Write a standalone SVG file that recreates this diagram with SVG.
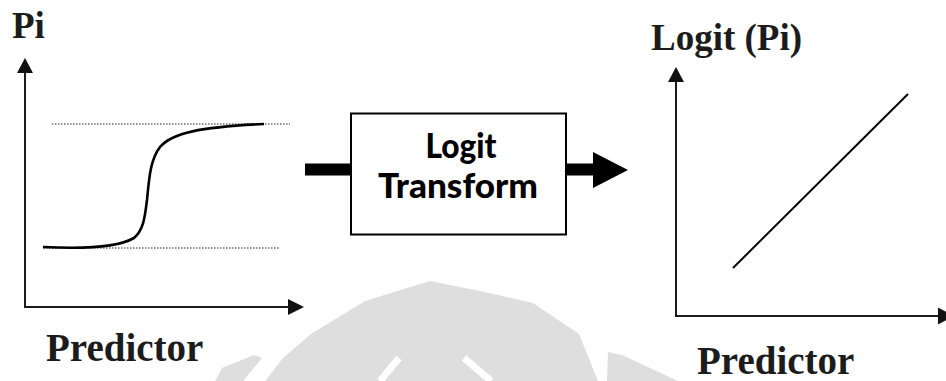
<svg xmlns="http://www.w3.org/2000/svg" width="946" height="381" viewBox="0 0 946 381">
  <style>
    .serif { font-family: "Liberation Serif", "Times New Roman", serif; font-weight: bold; font-size: 37px; fill: #1c1c1c; }
    .xlabel { font-size: 39px; }
    .sans { font-family: Lato, "Open Sans", sans-serif; font-weight: 900; font-size: 35px; fill: #000; text-anchor: middle; }
    .axis { stroke: #1c1c1c; stroke-width: 2; fill: none; }
    .head { fill: #111; }
    .dots { stroke: #222; stroke-width: 1.2; stroke-dasharray: 1.5 1.5; fill: none; }
    .curve { stroke: #000; stroke-width: 2.6; fill: none; }
    .mark { fill: #dedede; }
  </style>

  <rect width="946" height="381" fill="#fff"/>

  <!-- faint background emblem -->
  <g id="emblem">
    <path class="mark" d="M430,281 L480,291 L533,303 L579,334 L598,381 L265,381 L283,358 L311,334 L365,301 Z"/>
    <path class="mark" d="M215,381 L222,368 L254,355 L262,358 L243,381 Z"/>
    <path class="mark" d="M608,352 L622,355 L678,381 L607,381 Z"/>
    <path d="M399,358 L380,381 M464,358 L491,381" stroke="#fff" stroke-width="7" fill="none"/>
  </g>

  <!-- left plot: probability against predictor -->
  <g id="sigmoid-plot">
    <text class="serif" x="12" y="38">Pi</text>
    <line class="axis" x1="25" y1="70" x2="25" y2="307"/>
    <line class="axis" x1="24" y1="307" x2="290" y2="307"/>
    <polygon class="head" points="25,58 17,73 33,73"/>
    <polygon class="head" points="304,307 288,299 288,315"/>
    <line class="dots" x1="52" y1="124" x2="290" y2="124"/>
    <line class="dots" x1="43" y1="248" x2="280" y2="248"/>
    <path class="curve" d="M43,247 C90,249.5 120,246 134,238 C144,230 145,215 147,200 C149,180 150,160 160,147 C172,133 200,127 264,124"/>
    <text class="serif xlabel" x="46" y="361">Predictor</text>
  </g>

  <!-- transform box -->
  <g id="logit-transform">
    <rect x="351" y="113.5" width="215" height="121" fill="#fff" stroke="#000" stroke-width="2"/>
    <text class="sans" x="461" y="158" textLength="71" lengthAdjust="spacingAndGlyphs">Logit</text>
    <text class="sans" x="458" y="198" textLength="160" lengthAdjust="spacingAndGlyphs">Transform</text>
  </g>

  <!-- right plot: logit against predictor -->
  <g id="linear-plot">
    <text class="serif" x="651" y="50">Logit (Pi)</text>
    <line class="axis" x1="676" y1="80" x2="676" y2="316"/>
    <line class="axis" x1="675" y1="316" x2="940" y2="316"/>
    <polygon class="head" points="676,67 668,82 684,82"/>
    <polygon class="head" points="954,316 938,307.5 938,324.5"/>
    <line x1="733" y1="268" x2="908" y2="94" stroke="#000" stroke-width="2"/>
    <text class="serif xlabel" x="697" y="374">Predictor</text>
  </g>

  <!-- connectors: flow through the transform -->
  <g id="connectors">
    <rect x="305" y="163.5" width="46" height="12" fill="#000"/>
    <rect x="566" y="163.5" width="28" height="12" fill="#000"/>
    <polygon points="593,152 628,170 593,188" fill="#000"/>
  </g>
</svg>
